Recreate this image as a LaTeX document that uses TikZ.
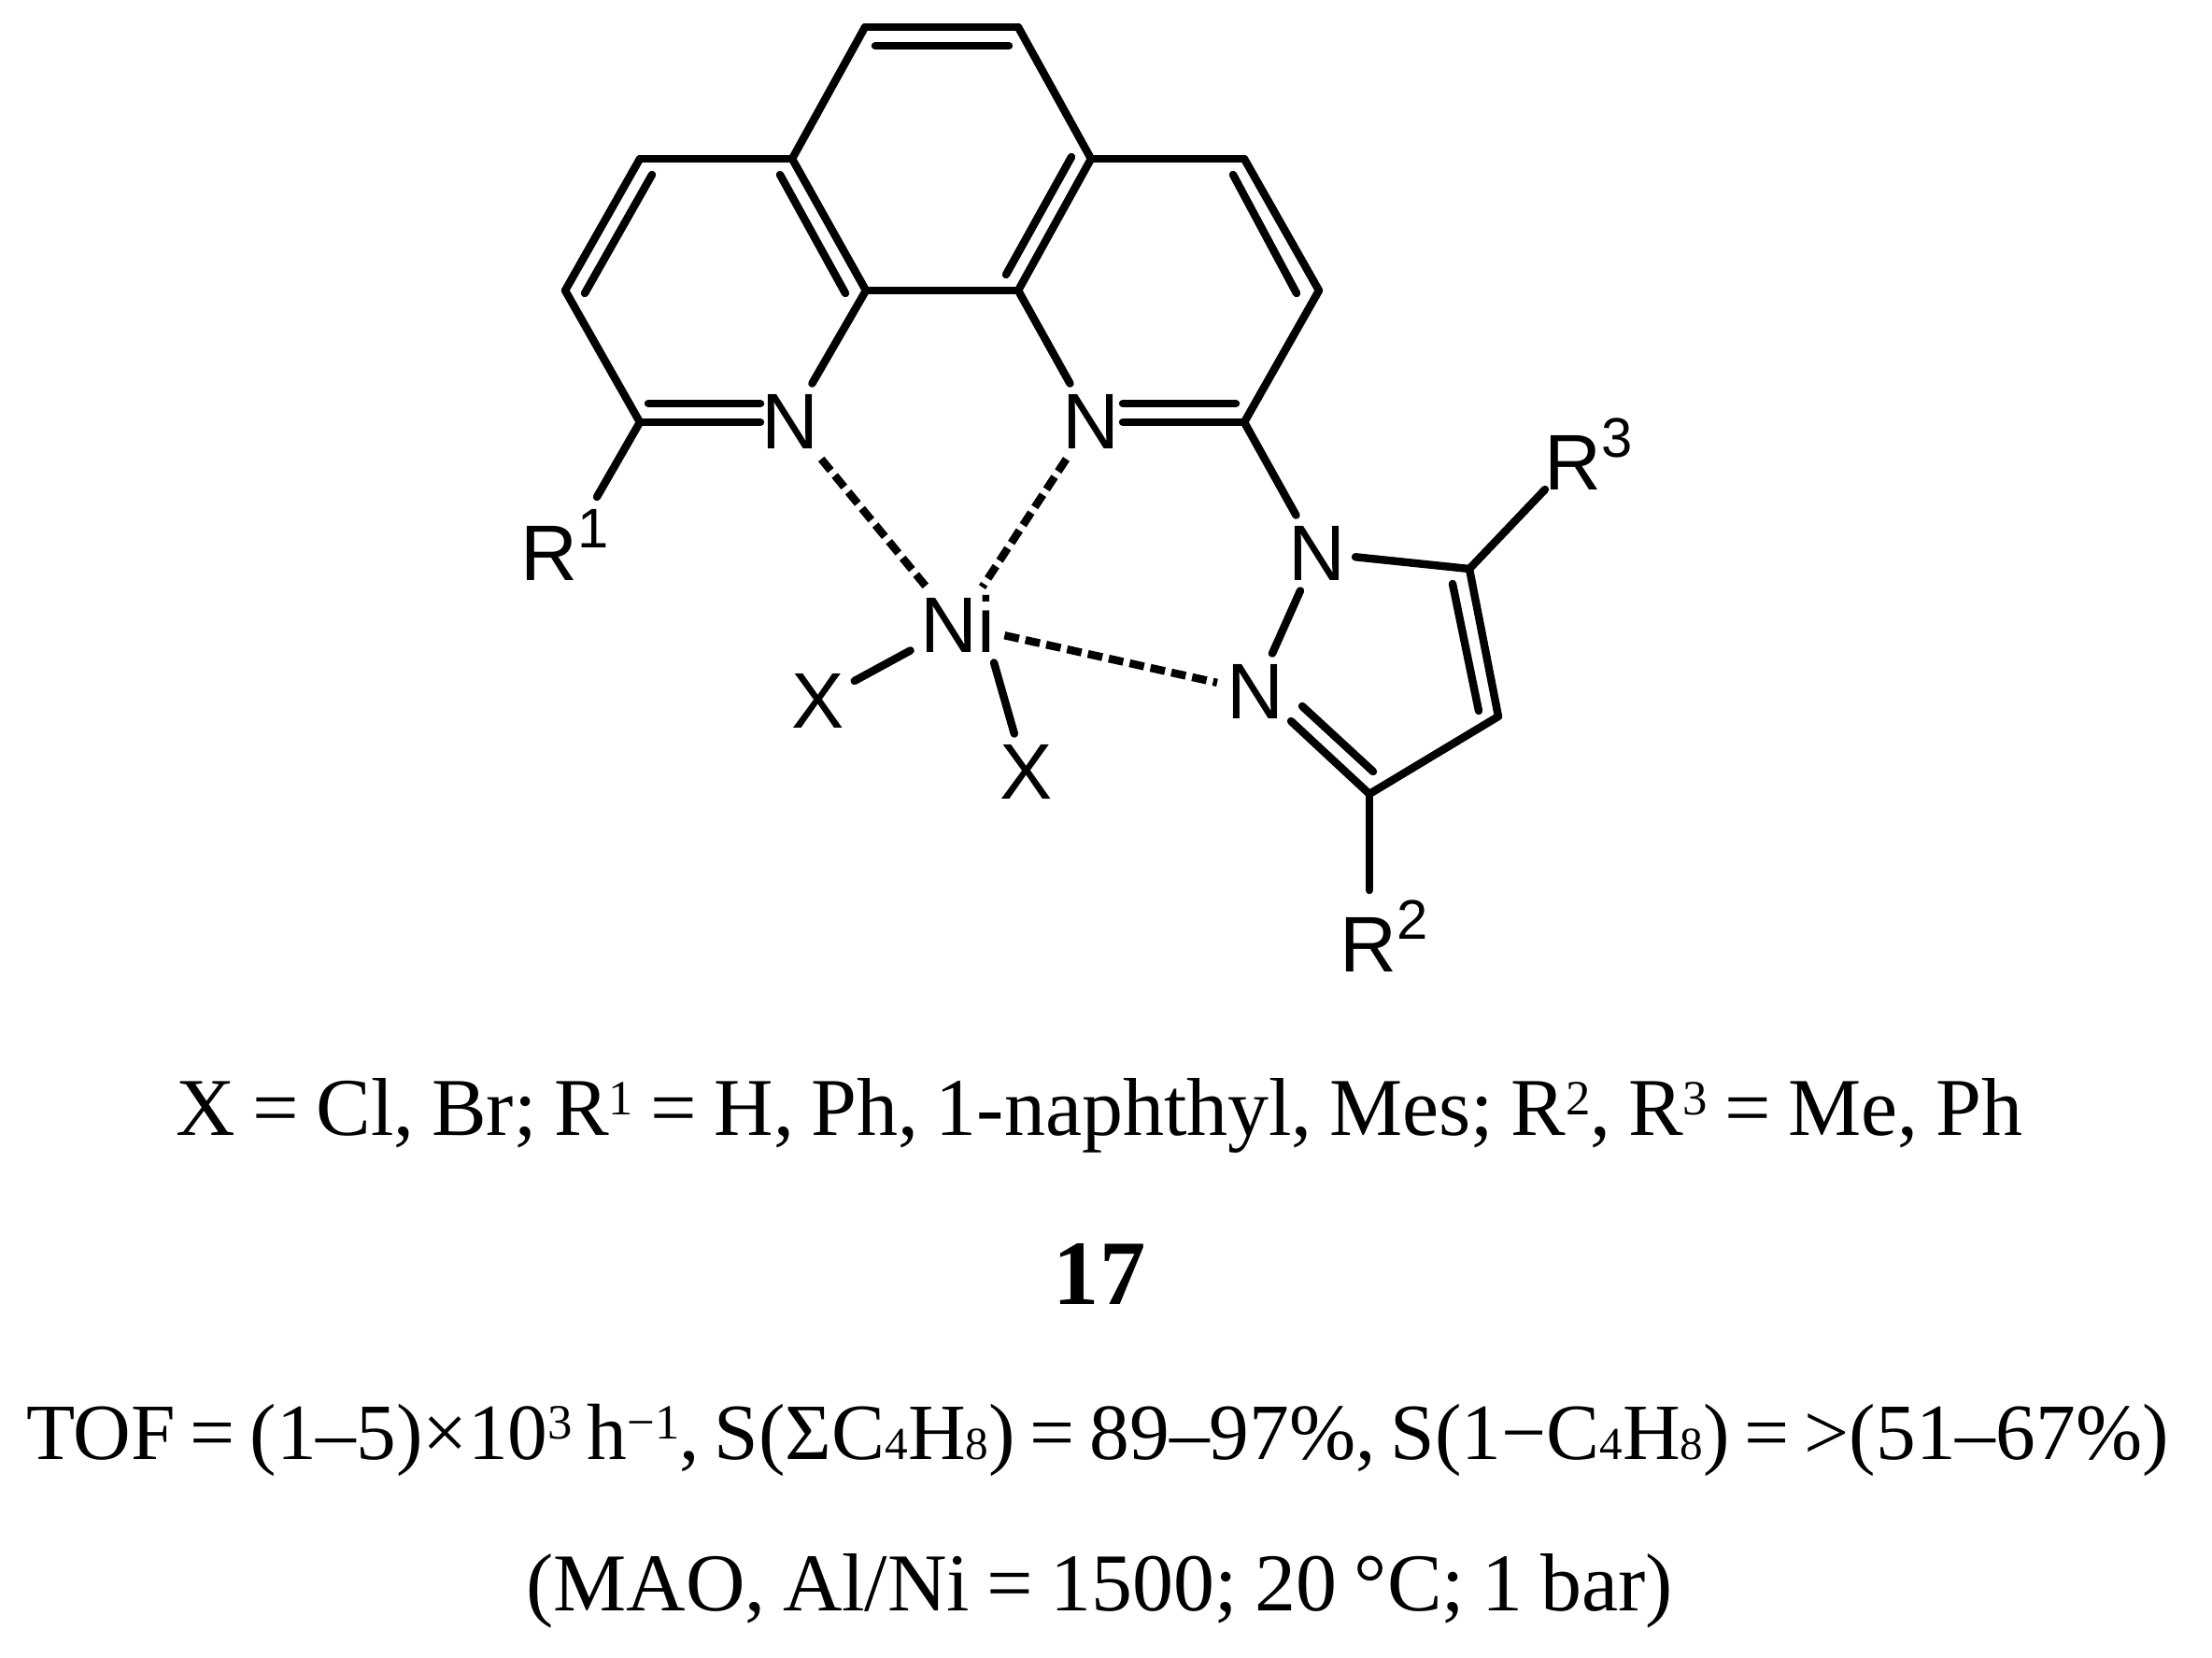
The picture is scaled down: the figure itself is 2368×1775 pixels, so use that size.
\documentclass[tikz,border=0pt]{standalone}
\usepackage{fontspec}
\setmainfont{Liberation Serif}[WordSpace=0.84]
\setsansfont{Liberation Sans}
\newfontfamily\tightfont{Liberation Serif}[WordSpace=0.74]

\newcommand{\rlab}[1]{R\rlap{\raisebox{10pt}{\fontsize{17}{17}\selectfont #1}}}
\newcommand{\supr}[1]{\raisebox{6pt}{\fontsize{15}{15}\selectfont #1}}
\newcommand{\subr}[1]{{\fontsize{14}{14}\selectfont #1}}

\tikzset{
	bond/.style={line width=2.4pt, line cap=round},
	dbond/.style={line width=2.4pt, dash pattern=on 4.5pt off 2pt},
	atom/.style={font=\sffamily\fontsize{24}{24}\selectfont, text height=17pt, text depth=0pt, inner sep=3pt, outer sep=0pt},
	caption/.style={font=\fontsize{25}{25}\selectfont, anchor=base, inner sep=0pt}
}

\begin{document}
\begin{tikzpicture}[x=0.01cm, y=-0.01cm]

			\useasboundingbox (0,0) rectangle (2368,1775);

			\coordinate (top1) at (926,29);
			\coordinate (top2) at (1090,29);
			\coordinate (midl) at (848,170);
			\coordinate (midr) at (1168,170);
			\coordinate (outl) at (685,170);
			\coordinate (outr) at (1332,170);
			\coordinate (farl) at (605,311);
			\coordinate (farr) at (1412,311);
			\coordinate (basel) at (927,311);
			\coordinate (baser) at (1090,311);
			\coordinate (iminl) at (685,452);
			\coordinate (iminr) at (1332,452);

			\coordinate (cthree) at (1573,609);
			\coordinate (cfour) at (1604,767);
			\coordinate (ctwo) at (1466,850);

			\node[atom] (nl) at (846,451) {N};
			\node[atom] (nr) at (1168,451) {N};
			\node[atom] (ni) at (1025,669) {Ni};
			\node[atom] (xl) at (876,750) {X};
			\node[atom] (xb) at (1099,826) {X};
			\node[atom] (npu) at (1410,592) {N};
			\node[atom] (npl) at (1344,740) {N};
			\node[atom] (rone) at (588,592) {\rlab{1}};
			\node[atom] (rtwo) at (1465,1011) {\rlab{2}};
			\node[atom] (rthree) at (1684,495) {\rlab{3}};

			\coordinate (roneend) at (639,532);
			\coordinate (rtwoend) at (1466,953);
			\coordinate (rthreeend) at (1654,524);

			\draw [bond] (top1) -- (top2);
			\draw [bond] (top1) -- (midl);
			\draw [bond] (top2) -- (midr);
			\draw [bond] (midl) -- (outl);
			\draw [bond] (midr) -- (outr);
			\draw [bond] (outl) -- (farl);
			\draw [bond] (outr) -- (farr);
			\draw [bond] (midl) -- (basel);
			\draw [bond] (midr) -- (baser);
			\draw [bond] (basel) -- (baser);
			\draw [bond] (farl) -- (iminl);
			\draw [bond] (farr) -- (iminr);
			\draw [bond] (basel) -- (nl);
			\draw [bond] (baser) -- (nr);

			\coordinate (ia1) at (937,49);
			\coordinate (ia2) at (1080,49);
			\coordinate (ib1) at (698,187);
			\coordinate (ib2) at (626,314);
			\coordinate (ic1) at (835,187);
			\coordinate (ic2) at (905,314);
			\coordinate (id1) at (1147,168);
			\coordinate (id2) at (1077,294);
			\coordinate (ie1) at (1320,187);
			\coordinate (ie2) at (1388,314);

			\draw [bond] (ia1) -- (ia2);
			\draw [bond] (ib1) -- (ib2);
			\draw [bond] (ic1) -- (ic2);
			\draw [bond] (id1) -- (id2);
			\draw [bond] (ie1) -- (ie2);

			\coordinate (il1) at (694,432);
			\coordinate (il2) at (814,432);
			\coordinate (il3) at (814,452);
			\coordinate (ir1) at (1202,432);
			\coordinate (ir2) at (1323,432);
			\coordinate (ir3) at (1202,452);

			\draw [bond] (iminl) -- (il3);
			\draw [bond] (il1) -- (il2);
			\draw [bond] (ir3) -- (iminr);
			\draw [bond] (ir1) -- (ir2);

			\draw [bond] (iminl) -- (roneend);
			\draw [bond] (iminr) -- (npu);

			\draw [dbond] (nl) -- (ni);
			\draw [dbond] (nr) -- (ni);
			\draw [dbond] (ni) -- (npl);

			\draw [bond] (ni) -- (xl);
			\draw [bond] (ni.-46) -- (xb.108);

			\draw [bond] (npu) -- (npl);
			\draw [bond] (npu) -- (cthree);
			\draw [bond] (cthree) -- (rthreeend);
			\draw [bond] (cthree) -- (cfour);
			\draw [bond] (cfour) -- (ctwo);
			\draw [bond] (ctwo) -- (rtwoend);

			\coordinate (ip1) at (1555,625);
			\coordinate (ip2) at (1583,761);
			\coordinate (iq1) at (1382,772);
			\coordinate (iq2) at (1394,756);
			\coordinate (iq3) at (1470,826);

			\draw [bond] (ip1) -- (ip2);
			\draw [bond] (ctwo) -- (iq1);
			\draw [bond] (iq2) -- (iq3);

			\node[caption] (legend) at (1177,1215) {X = Cl, Br; R\supr{1} = H, Ph, 1-naphthyl, Mes; R\supr{2}, R\supr{3} = Me, Ph};
			\node[caption, font=\bfseries\fontsize{28}{28}\selectfont] (number) at (1177,1396) {17};
			\node[caption, font=\tightfont\fontsize{24.3}{24.3}\selectfont] (tof) at (1175,1562) {TOF = (1–5)×10\supr{3} h\supr{−1}, S(ΣC\subr{4}H\subr{8}) = 89–97\%, S(1−C\subr{4}H\subr{8}) = >(51–67\%)};
			\node[caption] (cond) at (1177,1724) {(MAO, Al/Ni = 1500; 20 °C; 1 bar)};

	\end{tikzpicture}
\end{document}
